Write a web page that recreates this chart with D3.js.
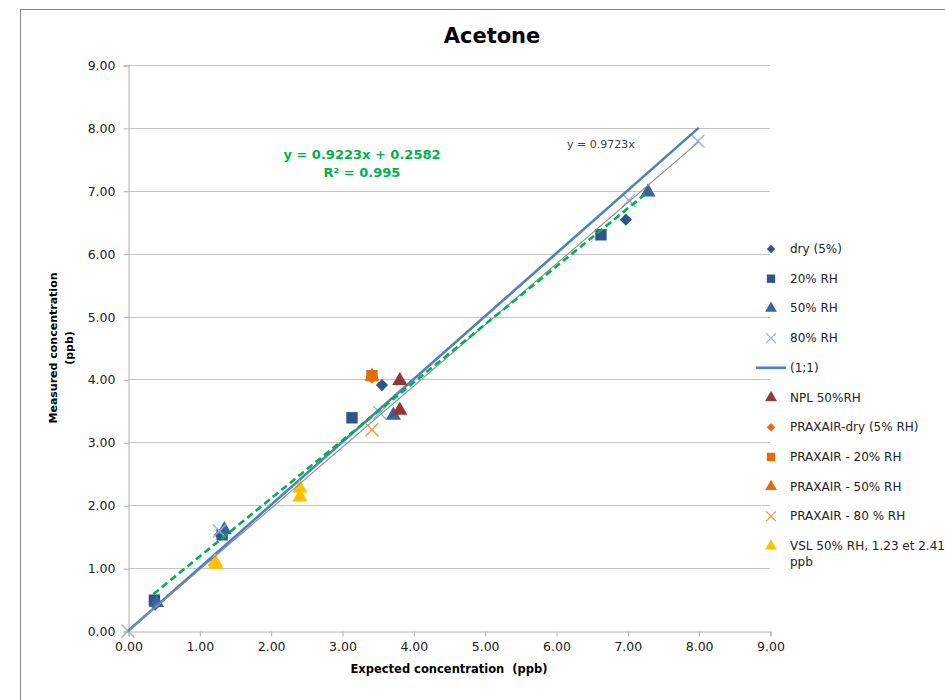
<!DOCTYPE html>
<html>
<head>
<meta charset="utf-8">
<script src="https://cdn.jsdelivr.net/npm/d3@7"></script>
<style>
  body { margin: 0; background: #fff; }
  svg { display: block; font-family: "DejaVu Sans", Verdana, sans-serif; }
</style>
</head>
<body>
<svg id="chart"></svg>
<script>
const width = 945, height = 700

// data
const xTicks = [0, 1, 2, 3, 4, 5, 6, 7, 8, 9]
const yTicks = [0, 1, 2, 3, 4, 5, 6, 7, 8, 9]

const dryX = [0.38, 1.29, 3.56, 6.98]
const dryY = [0.42, 1.53, 3.91, 6.54]
const rh20X = [0.37, 1.32, 3.14, 6.63]
const rh20Y = [0.49, 1.53, 3.39, 6.30]
const rh50X = [0.40, 1.35, 3.72, 7.29]
const rh50Y = [0.45, 1.61, 3.43, 6.98]
const rh80X = [0.00, 1.28, 3.53, 7.02, 7.99]
const rh80Y = [0.00, 1.59, 3.47, 6.85, 7.79]
const oneX = [0, 8]
const oneY = [0, 8]
const nplX = [3.81, 3.81]
const nplY = [3.98, 3.51]
const praxDryX = [3.42]
const praxDryY = [4.03]
const prax20X = [3.42]
const prax20Y = [4.06]
const prax50X = [3.42]
const prax50Y = [4.05]
const prax80X = [3.42]
const prax80Y = [3.20]
const vslX = [1.22, 1.23, 2.41, 2.41]
const vslY = [1.10, 1.06, 2.27, 2.13]

// trendlines as labelled on the chart
const fitSlope = 0.9223, fitIntercept = 0.2582, fitRange = [0.355, 7.28]
const propSlope = 0.9723, propRange = [0, 8]

const series = [
  { name: 'dry (5%)', xs: dryX, ys: dryY, shape: 'diamond', color: '#2F5489' },
  { name: '20% RH', xs: rh20X, ys: rh20Y, shape: 'square', color: '#2F5489' },
  { name: '50% RH', xs: rh50X, ys: rh50Y, shape: 'triangle', color: '#3A62A0' },
  { name: '80% RH', xs: rh80X, ys: rh80Y, shape: 'cross', color: '#95B3D7' },
  { name: '(1;1)', xs: oneX, ys: oneY, shape: 'line', color: '#4F81BD' },
  { name: 'NPL 50%RH', xs: nplX, ys: nplY, shape: 'triangle', color: '#953735' },
  { name: 'PRAXAIR-dry (5% RH)', xs: praxDryX, ys: praxDryY, shape: 'diamond', color: '#E46C0A' },
  { name: 'PRAXAIR - 20% RH', xs: prax20X, ys: prax20Y, shape: 'square', color: '#E46C0A' },
  { name: 'PRAXAIR - 50% RH', xs: prax50X, ys: prax50Y, shape: 'triangle', color: '#E46C0A' },
  { name: 'PRAXAIR - 80 % RH', xs: prax80X, ys: prax80Y, shape: 'cross', color: '#F79646' },
  { name: ['VSL 50% RH, 1.23 et 2.41', 'ppb'], xs: vslX, ys: vslY, shape: 'triangle', color: '#FFC000' }
]

const svg = d3.select('#chart').attr('width', width).attr('height', height)

svg.append('rect')
  .attr('x', 20.5).attr('y', 9.5)
  .attr('width', 960).attr('height', 720)
  .attr('fill', '#fff').attr('stroke', '#868686').attr('stroke-width', 1)

const xScale = d3.scaleLinear().domain([0, 9]).range([128, 770])
const yScale = d3.scaleLinear().domain([0, 9]).range([631, 65])

// gridlines
svg.append('g').selectAll('line')
  .data(yTicks.slice(1))
  .enter()
  .append('line')
  .attr('x1', xScale(0)).attr('x2', xScale(9))
  .attr('y1', d => Math.round(yScale(d)) + 0.5)
  .attr('y2', d => Math.round(yScale(d)) + 0.5)
  .attr('stroke', '#C4C4C4')

const yAxis = svg.append('g')
  .attr('transform', 'translate(' + (xScale(0) + 0.5) + ',0.5)')
  .call(d3.axisLeft(yScale).tickValues(yTicks).tickFormat(d3.format('.2f')).tickSize(5).tickPadding(8))
const xAxis = svg.append('g')
  .attr('transform', 'translate(0.5,' + (yScale(0) + 0.5) + ')')
  .call(d3.axisBottom(xScale).tickValues(xTicks).tickFormat(d3.format('.2f')).tickSize(5).tickPadding(6))

;[yAxis, xAxis].forEach(ax => {
  ax.select('.domain').attr('stroke', '#B0B0B0')
  ax.selectAll('.tick line').attr('stroke', '#B0B0B0')
  ax.selectAll('.tick text')
    .attr('fill', '#222')
    .style('font-family', '"DejaVu Sans", Verdana, sans-serif')
    .style('font-size', '12.5px')
})

// excel-like marker: diamond is a square turned 45 degrees
const symbolPath = (shape, size) => {
  const types = { diamond: d3.symbolSquare, square: d3.symbolSquare, triangle: d3.symbolTriangle, cross: d3.symbolTimes }
  return d3.symbol().type(types[shape]).size(size)()
}
const markerTransform = (shape, x, y) =>
  'translate(' + x + ',' + y + ')' + (shape === 'diamond' ? ' rotate(45)' : '')

const markerSize = { diamond: 74, square: 130, triangle: 100, cross: 110 }
const legendSize = { diamond: 36, square: 70, triangle: 60, cross: 65 }

const line = d3.line().x(d => xScale(d[0])).y(d => yScale(d[1]))

const plot = svg.append('g')
series.forEach(s => {
  const pts = s.xs.map((x, i) => [x, s.ys[i]])
  if (s.shape === 'line') {
    plot.append('path').datum(pts)
      .attr('d', line).attr('fill', 'none')
      .attr('stroke', s.color).attr('stroke-width', 2.6)
    return
  }
  plot.append('g').selectAll('path')
    .data(pts)
    .enter()
    .append('path')
    .attr('transform', d => markerTransform(s.shape, xScale(d[0]), yScale(d[1])))
    .attr('d', symbolPath(s.shape, markerSize[s.shape]))
    .attr('fill', s.shape === 'cross' ? 'none' : s.color)
    .attr('stroke', s.shape === 'cross' ? s.color : 'none')
    .attr('stroke-width', 1.4)
})

// trendlines
plot.append('path')
  .datum(propRange.map(x => [x, propSlope * x]))
  .attr('d', line).attr('fill', 'none')
  .attr('stroke', '#8C8C8C').attr('stroke-width', 1.1)

plot.append('path')
  .datum(fitRange.map(x => [x, fitSlope * x + fitIntercept]))
  .attr('d', line).attr('fill', 'none')
  .attr('stroke', '#00B050').attr('stroke-width', 2.6)
  .attr('stroke-dasharray', '7,4')

svg.append('text')
  .attr('x', 567).attr('y', 148)
  .attr('font-size', 11).attr('fill', '#404040')
  .text('y = 0.9723x')

const eq = svg.append('text')
  .attr('text-anchor', 'middle')
  .attr('font-size', 13).attr('font-weight', 'bold').attr('fill', '#00B050')
eq.append('tspan').attr('x', 362).attr('y', 159).text('y = 0.9223x + 0.2582')
eq.append('tspan').attr('x', 362).attr('y', 177).text('R² = 0.995')

// titles
svg.append('text')
  .attr('x', 492).attr('y', 43)
  .attr('text-anchor', 'middle')
  .attr('font-size', 21).attr('font-weight', 'bold').attr('fill', '#000')
  .text('Acetone')

svg.append('text')
  .attr('x', 449).attr('y', 673)
  .attr('text-anchor', 'middle')
  .attr('font-size', 11.5).attr('font-weight', 'bold').attr('fill', '#000')
  .style('white-space', 'pre')
  .text('Expected concentration \u00A0(ppb)')

const yTitle = svg.append('text')
  .attr('transform', 'translate(57,348) rotate(-90)')
  .attr('text-anchor', 'middle')
  .attr('font-size', 11).attr('font-weight', 'bold').attr('fill', '#000')
yTitle.append('tspan').attr('x', 0).attr('y', 0).text('Measured concentration')
yTitle.append('tspan').attr('x', 0).attr('y', 16).text('(ppb)')

// legend
const legendTop = 249, legendStep = 29.7
const legend = svg.append('g')
series.forEach((s, i) => {
  const y = legendTop + i * legendStep
  if (s.shape === 'line') {
    legend.append('line')
      .attr('x1', 756).attr('x2', 786).attr('y1', y).attr('y2', y)
      .attr('stroke', s.color).attr('stroke-width', 2.6)
  } else {
    legend.append('path')
      .attr('transform', markerTransform(s.shape, 771, y))
      .attr('d', symbolPath(s.shape, legendSize[s.shape]))
      .attr('fill', s.shape === 'cross' ? 'none' : s.color)
      .attr('stroke', s.shape === 'cross' ? s.color : 'none')
      .attr('stroke-width', 1.2)
  }
  const lines = Array.isArray(s.name) ? s.name : [s.name]
  const t = legend.append('text')
    .attr('font-size', 12).attr('fill', '#222')
  lines.forEach((l, j) => {
    t.append('tspan').attr('x', 790).attr('y', y + 4 + j * 16).text(l)
  })
})
</script>
</body>
</html>
